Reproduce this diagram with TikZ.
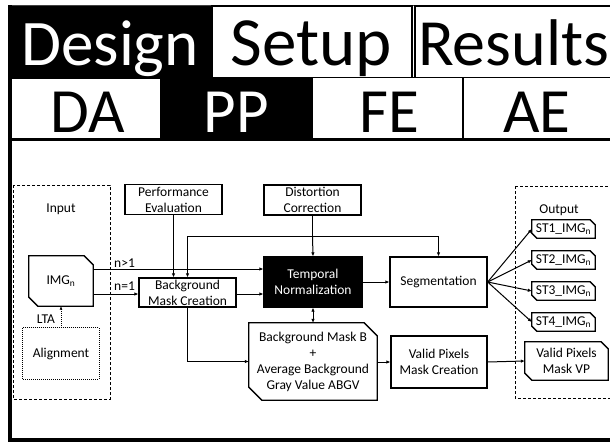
\documentclass[tikz,border=0pt]{standalone}
\usepackage{fontspec}
\setmainfont{Carlito}
\usetikzlibrary{arrows.meta}
\newcommand{\diagfont}{\fontsize{13.5}{16}\selectfont}
\newcommand{\headfont}{\fontsize{63}{70}\selectfont}
\newcommand{\topfont}{\fontsize{69}{75}\selectfont}
% outline with the upper right and lower left corners cut off
\newcommand{\cutbox}[2]{%
  \draw[line width=1.3pt] ([xshift=-#2]#1.north east) -- (#1.north west)
    -- ([yshift=#2]#1.south west) -- ([xshift=#2]#1.south west)
    -- (#1.south east) -- ([yshift=-#2]#1.north east) -- cycle;}
\begin{document}
\begin{tikzpicture}[x=1pt,y=-1pt,
  box/.style={draw, line width=1.3pt, fill=white, align=center, inner sep=1pt, font=\diagfont},
  txt/.style={align=center, inner sep=1pt, font=\diagfont},
  lbl/.style={inner sep=0pt, font=\diagfont, anchor=base west},
  head/.style={inner sep=0pt, font=\headfont, anchor=base},
  arr/.style={line width=1pt, -{Latex[length=4pt,width=3.5pt]}},
  arrtwo/.style={line width=1pt, {Latex[length=4pt,width=3.5pt]}-{Latex[length=4pt,width=3.5pt]}},
  plain/.style={line width=1pt},
  group/.style={draw, line width=1pt, dash pattern=on 3pt off 2pt},
  dots/.style={line width=1pt, dash pattern=on 1pt off 1pt}
]
\useasboundingbox (0,0) rectangle (610,442);
\fill[white] (0,0) rectangle (610,442);

% ---- header rows ----
\fill[black] (8,5) rectangle (212,79);
\fill[black] (160,78) rectangle (313,138);
\draw[line width=1.5pt, black!75] (8,5.5) -- (610,5.5);
\draw[line width=1.8pt] (212,6) rectangle (412,77.5);
\draw[line width=1.8pt] (415,6) rectangle (625,77.5);
\draw[line width=1.8pt] (313,77.5) -- (610,77.5);
\draw[line width=1.8pt] (463,77.5) -- (463,138);
\draw[line width=3pt] (8,139) -- (610,139);
\draw[line width=3.5pt] (10,5) -- (10,441);
\draw[line width=3.5pt] (8,440) -- (610,440);

\node[head, font=\fontsize{65}{70}\selectfont, text=white] (hdesign) at (110,65) {Design};
\node[head, font=\topfont] (hsetup) at (311,65) {Setup};
\node[head, font=\fontsize{66}{72}\selectfont, anchor=base west] (hresults) at (418,65) {Results};
\node[head] (hda) at (88,132) {DA};
\node[head, text=white] (hpp) at (236,132) {PP};
\node[head] (hfe) at (389,132) {FE};
\node[head] (hae) at (537,132) {AE};

% ---- input and output groups ----
\draw[group] (13,185) rectangle (110,399);
\draw[group] (515,186) -- (515,398) -- (615,398);
\draw[group] (515,186) -- (615,186);
\node[txt] (input) at (61,209) {Input};
\node[txt] (output) at (559,210) {Output};

% ---- process boxes ----
\node[box, minimum width=97pt, minimum height=30pt] (perf) at (173.5,199.5) {Performance\\Evaluation};
\node[box, minimum width=97pt, minimum height=30pt] (dist) at (312.5,200) {Distortion\\Correction};
\node[box, minimum width=97pt, minimum height=29pt] (bmc) at (187.5,292.5) {Background\\Mask Creation};
\node[box, fill=black, text=white, minimum width=98pt, minimum height=50pt] (tn) at (313,282) {Temporal\\Normalization};
\node[box, minimum width=97pt, minimum height=50pt] (seg) at (438.5,282) {Segmentation};
\node[box, minimum width=96pt, minimum height=52pt] (vpmc) at (439,362) {Valid Pixels\\Mask Creation};
\node[txt, minimum width=76pt, minimum height=51pt] (align) at (61,353.5) {Alignment};
\draw[dots] (align.north west) rectangle (align.south east);

% ---- data items (cut corners) ----
\node[txt, minimum width=64pt, minimum height=50pt] (img) at (61,281) {IMG\textsubscript{n}};
\cutbox{img}{9pt}
\node[txt, minimum width=128pt, minimum height=77pt] (bmb) at (313,361.5)
  {Background Mask B\\+\\Average Background\\Gray Value ABGV};
\cutbox{bmb}{13pt}
\node[txt, minimum width=83pt, minimum height=38pt] (vpm) at (566.5,361) {Valid Pixels\\Mask VP};
\cutbox{vpm}{7pt}
\foreach \i/\y in {1/229,2/260,3/291,4/322}{
  \node[txt, minimum width=63pt, minimum height=18pt] (st\i) at (563.5,\y) {ST\i\_IMG\textsubscript{n}};
  \cutbox{st\i}{5pt}
}

% ---- connectors ----
\coordinate (j) at (dist.south |- 0,236);
\draw[plain] (dist.south) -- (j);
\draw[arr] (j) -- (tn.north);
\draw[arr] (j) -| (bmc.north);
\draw[arr] (j) -| (seg.north);
\draw[arr] (perf.south) -- (perf.south |- bmc.north);

\draw[arr] (img.east |- 0,269) -- (tn.west |- 0,269);
\draw[arr] (img.east |- 0,294) -- (bmc.west |- 0,294);
\draw[arr] (bmc.east |- 0,294) -- (tn.west |- 0,294);
\node[lbl] (ngt) at (114,267) {n>1};
\node[lbl] (neq) at (114,290) {n=1};

\draw[arr] (tn.east) -- (seg.west);
\foreach \i in {1,...,4}{ \draw[arr] (seg.east) -- (st\i.west); }

\draw[arr] (bmc.south) |- (bmb.west);
\draw[arrtwo] (tn.south) -- (bmb.north);
\draw[arr] (bmb.east |- vpmc.west) -- (vpmc.west);
\draw[arr] (vpmc.east) -- (vpm.west);

\draw[dots, -{Latex[length=3.5pt,width=3pt]}] (align.north) -- (img.south);
\node[lbl, anchor=base] (lta) at (46,323) {LTA};
\end{tikzpicture}
\end{document}
